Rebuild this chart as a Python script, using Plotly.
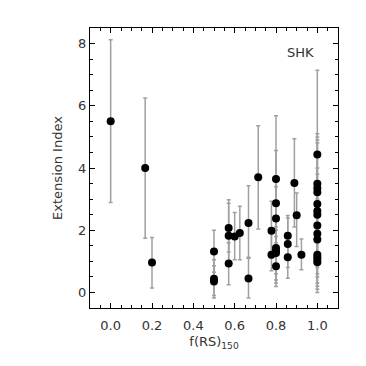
import plotly.graph_objects as go

# data: x = f(RS)150, y = Extension Index, with asymmetric errors (upper and lower bounds)
x_vals = [0.0, 0.167, 0.2,
          0.5, 0.5, 0.5,
          0.571, 0.571, 0.571,
          0.6, 0.625, 0.667, 0.667, 0.714,
          0.778, 0.778,
          0.8, 0.8, 0.8, 0.8, 0.8, 0.8, 0.8,
          0.857, 0.857, 0.857,
          0.889, 0.9, 0.923,
          1.0, 1.0, 1.0, 1.0, 1.0, 1.0, 1.0, 1.0, 1.0, 1.0, 1.0, 1.0, 1.0, 1.0]
y_vals = [5.50, 4.00, 0.96,
          1.32, 0.44, 0.35,
          2.07, 1.82, 0.93,
          1.80, 1.91, 2.23, 0.45, 3.70,
          1.98, 1.21,
          3.65, 2.87, 2.38, 1.43, 1.35, 1.27, 0.84,
          1.82, 1.56, 1.13,
          3.52, 2.48, 1.21,
          4.43, 3.49, 3.35, 3.22, 2.84, 2.62, 2.50, 2.15, 1.89, 1.70, 1.21, 1.13, 1.05, 0.97]
y_upper = [8.12, 6.25, 1.77,
           2.00, 1.05, 0.86,
           2.98, 2.87, 1.60,
           2.57, 2.77, 3.43, 1.13, 5.36,
           2.93, 1.90,
           5.68, 4.56, 3.40, 2.30, 2.10, 2.00, 1.60,
           2.47, 2.39, 1.90,
           4.94, 3.20, 1.72,
           7.14, 5.10, 5.00, 4.90, 4.80, 4.00, 3.80, 3.30, 3.00, 2.70, 2.00, 1.90, 1.80, 1.70]
y_lower = [2.89, 1.74, 0.14,
           0.65, -0.10, -0.18,
           1.30, 0.90, 0.25,
           1.05, 1.05, 1.10, -0.18, 2.04,
           1.10, 0.70,
           2.00, 1.80, 1.40, 0.60, 0.40, 0.30, 0.19,
           1.10, 0.80, 0.46,
           2.10, 1.48, 0.73,
           2.20, 1.90, 1.80, 1.60, 1.30, 1.20, 1.10, 0.80, 0.60, 0.50, 0.30, 0.20, 0.10, 0.00]

err_plus = [u - y for u, y in zip(y_upper, y_vals)]
err_minus = [y - l for l, y in zip(y_lower, y_vals)]

x_tickvals = [0.0, 0.2, 0.4, 0.6, 0.8, 1.0]
x_ticktext = ["0.0", "0.2", "0.4", "0.6", "0.8", "1.0"]
y_tickvals = [0, 2, 4, 6, 8]
y_ticktext = ["0", "2", "4", "6", "8"]

FONT = "DejaVu Sans, Liberation Sans, Arial, sans-serif"
TXT = "#333"

fig = go.Figure()
fig.add_trace(go.Scatter(
    x=x_vals, y=y_vals, mode="markers",
    marker=dict(color="black", size=8),
    error_y=dict(type="data", symmetric=False, array=err_plus, arrayminus=err_minus,
                 color="rgb(160,160,160)", thickness=1.5, width=2),
    showlegend=False,
))

axis_common = dict(
    showgrid=False, zeroline=False, showline=True, linecolor="black", linewidth=1,
    mirror="ticks", ticks="inside", ticklen=5, tickwidth=1, tickcolor="black",
    tickfont=dict(family=FONT, size=13, color=TXT),
)

fig.update_xaxes(
    range=[-0.1, 1.1], tickvals=x_tickvals, ticktext=x_ticktext,
    ticklabelstandoff=5,
    minor=dict(dtick=0.05, tick0=0, ticks="inside", ticklen=3, tickcolor="black", showgrid=False),
    title=dict(text="f(RS)<sub>150</sub>", font=dict(family=FONT, size=13, color=TXT), standoff=5),
    **axis_common,
)
fig.update_yaxes(
    range=[-0.5, 8.5], tickvals=y_tickvals, ticktext=y_ticktext,
    minor=dict(dtick=0.5, tick0=0, ticks="inside", ticklen=3, tickcolor="black", showgrid=False),
    title=dict(text="Extension Index", font=dict(family=FONT, size=13, color=TXT), standoff=12),
    **axis_common,
)

fig.add_annotation(x=0.92, y=7.72, xref="x", yref="y", text="SHK", showarrow=False,
                   font=dict(family=FONT, size=13, color=TXT))

fig.update_layout(
    width=366, height=366,
    margin=dict(l=82, r=36, t=20, b=66),
    paper_bgcolor="white", plot_bgcolor="white",
)

fig.write_html("out.html")
